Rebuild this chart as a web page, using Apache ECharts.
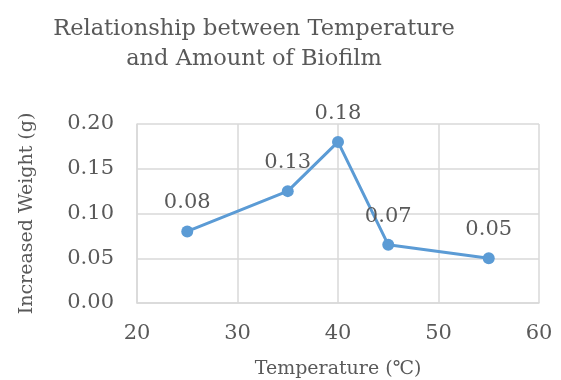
<!DOCTYPE html>
<html><head><meta charset="utf-8">
<script src="https://cdn.jsdelivr.net/npm/echarts@6/dist/echarts.min.js"></script>
<style>html,body{margin:0;padding:0;background:#fff}#c{width:561px;height:380px}</style>
</head><body><div id="c"></div>
<script>
const temps = [25, 35, 40, 45, 55];
const weights = [0.08, 0.125, 0.18, 0.065, 0.05];
const pointLabels = ['0.08', '0.13', '0.18', '0.07', '0.05'];
const xTicks = [20, 30, 40, 50, 60];
const yTicks = ['0.00', '0.05', '0.10', '0.15', '0.20'];
const titleText = 'Relationship between Temperature\nand Amount of Biofilm';

const FONT = 'DejaVu Serif';
const TXT = '#595959';
const chart = echarts.init(document.getElementById('c'));
chart.setOption({
  animation: false,
  title: {
    text: titleText, left: 249, top: 9, textAlign: 'center',
    textStyle: {fontFamily: FONT, fontSize: 22.5, fontWeight: 'normal', color: TXT, lineHeight: 30}
  },
  grid: {left: 137, right: 22, top: 124, bottom: 77, outerBoundsMode: 'none', containLabel: false},
  xAxis: {
    type: 'value', min: xTicks[0], max: xTicks[xTicks.length - 1], interval: 10,
    name: 'Temperature (\u2103)', nameLocation: 'middle', nameGap: 57,
    nameTextStyle: {fontFamily: FONT, fontSize: 19, color: TXT},
    axisLine: {show: true, lineStyle: {color: '#d9d9d9', width: 1.5}},
    axisTick: {show: false},
    axisLabel: {fontFamily: FONT, fontSize: 21, color: TXT, margin: 20},
    splitLine: {show: true, lineStyle: {color: '#d9d9d9', width: 1.5}}
  },
  yAxis: {
    type: 'value', min: 0, max: 0.2, interval: 0.05,
    name: 'Increased Weight (g)', nameLocation: 'middle', nameGap: 100,
    nameTextStyle: {fontFamily: FONT, fontSize: 19, color: TXT},
    axisLine: {show: true, lineStyle: {color: '#d9d9d9', width: 1.5}},
    axisTick: {show: false},
    axisLabel: {fontFamily: FONT, fontSize: 21, color: TXT, margin: 23,
      formatter: (v) => yTicks[Math.round(v / 0.05)]},
    splitLine: {show: true, lineStyle: {color: '#d9d9d9', width: 1.5}}
  },
  series: [{
    type: 'line',
    data: temps.map((t, i) => [t, weights[i]]),
    symbol: 'circle', symbolSize: 12,
    lineStyle: {color: '#5b9bd5', width: 3},
    itemStyle: {color: '#5b9bd5'},
    label: {show: true, position: 'top', distance: 12,
      fontFamily: FONT, fontSize: 21, color: TXT,
      formatter: (p) => pointLabels[p.dataIndex]}
  }]
});
</script></body></html>
